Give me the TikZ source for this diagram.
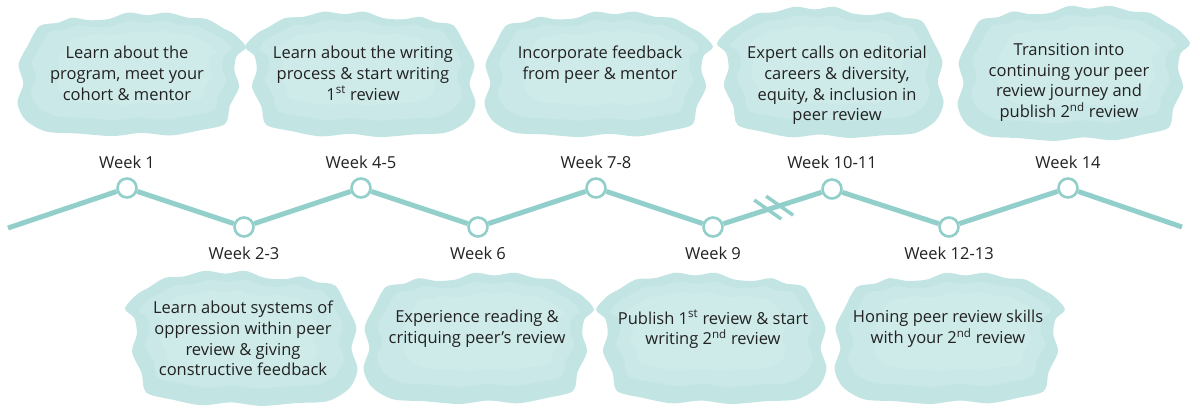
\documentclass[tikz,border=0pt]{standalone}
\usepackage{fontspec}
\setmainfont{Open Sans}
\usetikzlibrary{calc}
\definecolor{tline}{RGB}{146,207,203}
\definecolor{blobc}{RGB}{194,229,228}
\definecolor{blobl}{RGB}{218,240,239}
\definecolor{txt}{RGB}{34,34,34}
\tikzset{
  blob/.pic={
    \path[pic actions] plot[smooth cycle,tension=.5] coordinates {
      (-0.78,-0.75) (-0.62,-0.80) (-0.50,-0.88) (-0.35,-0.84) (-0.18,-0.86)
      (-0.02,-0.96) (0.15,-0.92) (0.32,-0.96) (0.50,-0.88) (0.66,-0.86)
      (0.80,-0.72) (0.90,-0.62) (1.00,-0.42) (0.92,-0.28) (0.90,-0.05)
      (0.94,0.20) (0.86,0.50) (0.82,0.78) (0.60,0.88) (0.35,0.96)
      (0.10,0.92) (-0.15,0.97) (-0.45,0.93) (-0.72,0.90) (-0.90,0.72)
      (-0.97,0.45) (-0.92,0.15) (-0.96,-0.15) (-0.88,-0.45)};
  },
  txtn/.style={font=\fontsize{16.5}{20.7}\selectfont, text=txt, align=center, inner sep=0pt, anchor=north},
  weekn/.style={font=\fontsize{16.5}{20}\selectfont, text=txt, inner sep=0pt},
  tl/.style={draw=tline, line width=5pt},
  dot/.style={circle, draw=tline, line width=2.6pt, fill=white, minimum size=19pt, inner sep=0pt},
}
\newcommand\blobat[4]{%
  \pic[fill=blobc, xscale=#3, yscale=#4] at (#1,#2) {blob};
  \pic[fill=blobl, fill opacity=.3, xscale=0.88*#3, yscale=0.8*#4] at (#1,{#2-0.06*abs(#4)}) {blob};
  \pic[fill=blobl, fill opacity=.3, xscale=0.7*#3, yscale=0.6*#4] at ({#1+0.05*#3},{#2-0.1*abs(#4)}) {blob};
}
\begin{document}
\begin{tikzpicture}[x=1pt,y=-1pt]
\useasboundingbox (0,0) rectangle (1200,417);
% blobs
\blobat{130}{74}{116}{64}
\blobat{362}{74}{-117}{65}
\blobat{597}{74}{116}{65}
\blobat{832}{72}{-115}{68}
\blobat{1072}{73}{118}{70}
\blobat{243}{338}{-118}{70}
\blobat{477}{338}{117}{68}
\blobat{713}{338}{-117}{68}
\blobat{948}{338}{117}{68}
% texts
\node[txtn] (t1) at (127,46) {Learn about the\\program, meet your\\cohort \& mentor};
\node[txtn] (t2) at (363,46) {Learn about the writing\\process \& start writing\\1\textsuperscript{st} review};
\node[txtn] (t3) at (600,46) {Incorporate feedback\\from peer \& mentor};
\node[txtn] (t4) at (837,46) {Expert calls on editorial\\careers \& diversity,\\equity, \& inclusion in\\peer review};
\node[txtn] (t5) at (1069,43) {Transition into\\continuing your peer\\review journey and\\publish 2\textsuperscript{nd} review};
\node[txtn] (t6) at (243,301) {Learn about systems of\\oppression within peer\\review \& giving\\constructive feedback};
\node[txtn] (t7) at (477,310) {Experience reading \&\\critiquing peer’s review};
\node[txtn] (t8) at (713,310) {Publish 1\textsuperscript{st} review \& start\\writing 2\textsuperscript{nd} review};
\node[txtn] (t9) at (948,310) {Honing peer review skills\\with your 2\textsuperscript{nd} review};
% timeline
\coordinate (s) at (8,228);
\coordinate (e) at (1182,227);
\node[dot] (c1) at (127,188) {};
\node[dot] (c2) at (244,227) {};
\node[dot] (c3) at (361,188) {};
\node[dot] (c4) at (478,227) {};
\node[dot] (c5) at (596,188) {};
\node[dot] (c6) at (713,227) {};
\node[dot] (c7) at (832,189) {};
\node[dot] (c8) at (949,227) {};
\node[dot] (c9) at (1068,188) {};
\draw[tl] (s) -- (c1) -- (c2) -- (c3) -- (c4) -- (c5) -- (c6) -- (c7) -- (c8) -- (c9) -- (e);
\draw[tl, line width=3.5pt] ($(c6)!0.46!(c7)$) ++(-13.5,-9.5) -- ++(27,19);
\draw[tl, line width=3.5pt] ($(c6)!0.56!(c7)$) ++(-13.5,-9.5) -- ++(27,19);
% week labels
\node[weekn] (w1) at (127,162) {Week 1};
\node[weekn] (w2) at (244,253) {Week 2-3};
\node[weekn] (w3) at (361,162) {Week 4-5};
\node[weekn] (w4) at (478,253) {Week 6};
\node[weekn] (w5) at (596,162) {Week 7-8};
\node[weekn] (w6) at (713,253) {Week 9};
\node[weekn] (w7) at (832,162) {Week 10-11};
\node[weekn] (w8) at (949,253) {Week 12-13};
\node[weekn] (w9) at (1068,162) {Week 14};
\end{tikzpicture}
\end{document}
